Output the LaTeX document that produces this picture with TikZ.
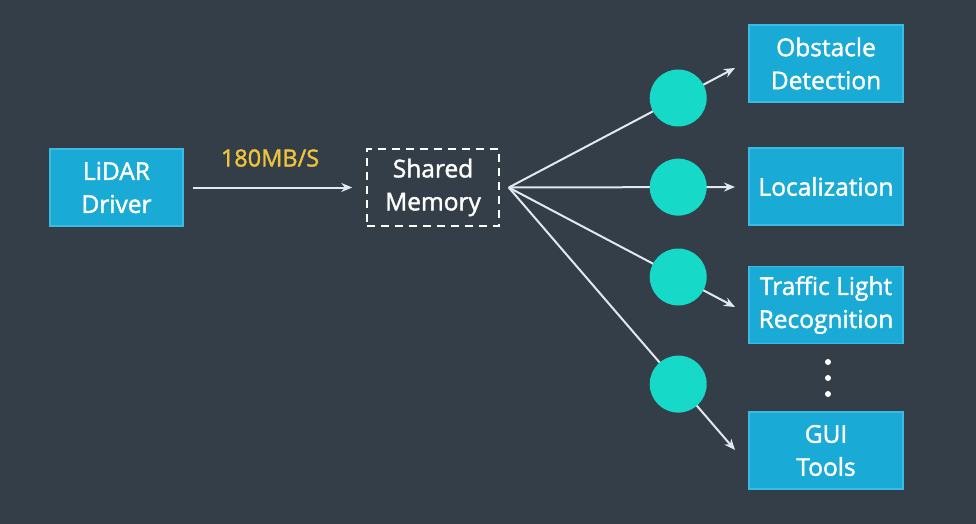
\documentclass[tikz,border=0pt]{standalone}
\usepackage{fontspec}
\setmainfont{Open Sans}
\newfontfamily\semibf{Open Sans}[FakeBold=1.6]
\usetikzlibrary{arrows.meta}
\definecolor{bg}{HTML}{343E49}
\definecolor{boxblue}{HTML}{19AAD6}
\definecolor{boxedge}{HTML}{3BBBE3}
\definecolor{teal}{HTML}{16D9C7}
\definecolor{wire}{HTML}{E2E8EF}
\definecolor{rate}{HTML}{EDC43A}
\begin{document}
\begin{tikzpicture}[x=1pt,y=-1pt,
  bluebox/.style={draw=boxedge,line width=1.2pt,fill=boxblue,text=white,align=center,
    minimum width=#1,minimum height=77pt,inner sep=0pt,font=\semibf\fontsize{24.5}{33}\selectfont},
  bluebox/.default=154pt,
  membox/.style={draw=white,dash pattern=on 8pt off 6pt,line width=1.5pt,text=white,align=center,
    minimum width=132pt,minimum height=77pt,inner sep=0pt,font=\semibf\fontsize{24.5}{33}\selectfont},
  wireline/.style={draw=wire,line width=2pt},
  wirearrow/.style={wireline,-{Stealth[length=11pt,width=9pt]}},
  relay/.style={circle,fill=teal,minimum size=57pt,inner sep=0pt},
  dotmark/.style={circle,fill=white,minimum size=6pt,inner sep=0pt}]
\fill[bg] (0,0) rectangle (976,524);
\useasboundingbox (0,0) rectangle (976,524);

\node[bluebox=133pt] (lidar) at (116.5,187.5) {LiDAR\\Driver};
\node[membox] (mem) at (433,187.5) {Shared\\Memory};
\node[bluebox] (obs) at (826,63.5) {Obstacle\\Detection};
\node[bluebox] (loc) at (826,186.5) {Localization};
\node[bluebox] (tlr) at (826,305) {Traffic Light\\Recognition};
\node[bluebox] (gui) at (826,450.5) {GUI\\Tools};

\draw[wirearrow] (lidar.east) ++(9,0) coordinate (a0) -- ([xshift=-14pt]mem.west) coordinate (a1);
\node[text=rate,font=\semibf\fontsize{23.5}{26}\selectfont] (rl) at (270,158) {180MB/S};

\coordinate (fan) at ([xshift=9pt]mem.east);
\coordinate (t1) at (735,68);
\coordinate (t2) at (735,187);
\coordinate (t3) at (735,307);
\coordinate (t4) at (735,450);

\foreach \i in {1,2,3,4}{
  \draw[wirearrow] (fan) -- (t\i) node[relay,pos=0.749] (c\i) {};
}

\node[dotmark] (d1) at (828,362) {};
\node[dotmark] (d2) at (828,378) {};
\node[dotmark] (d3) at (828,394) {};
\end{tikzpicture}
\end{document}
